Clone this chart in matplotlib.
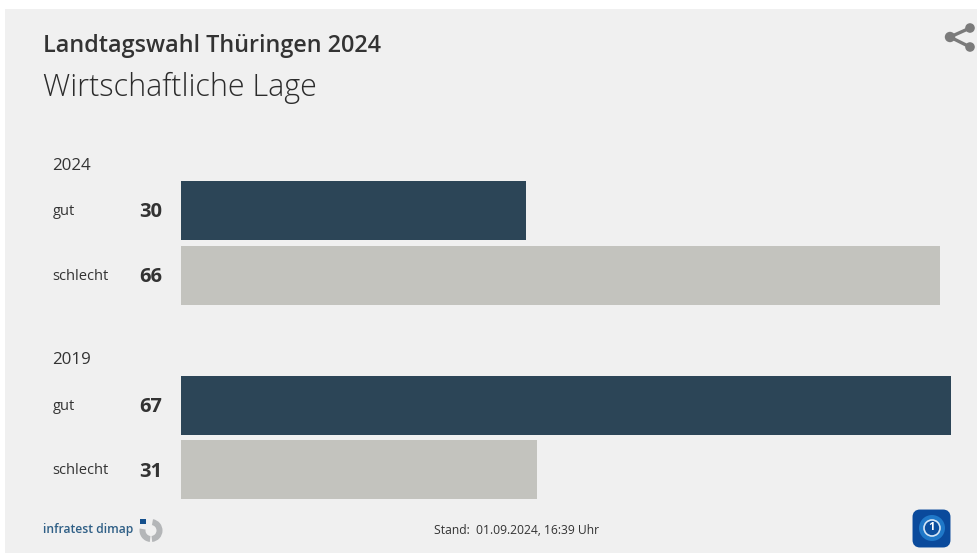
import matplotlib
matplotlib.use("Agg")
import matplotlib.pyplot as plt
from matplotlib.patches import Rectangle, Circle, FancyBboxPatch, Wedge

# Survey values
years = ["2024", "2019"]
answers = ["gut", "schlecht"]
values_2024 = [30, 66]
values_2019 = [67, 31]
bar_colors = ["#2c4557", "#c3c3be"]

title = "Landtagswahl Thüringen 2024"
subtitle = "Wirtschaftliche Lage"
stand = "Stand:  01.09.2024, 16:39 Uhr"
source = "infratest dimap"

W, H = 977, 553
FONT = "Open Sans"
TEXT = "#333333"

fig = plt.figure(figsize=(W / 100, H / 100), dpi=100, facecolor="white")

# Overlay in pixel units for the panel, headings and logos
bg = fig.add_axes([0, 0, 1, 1])
bg.set_xlim(0, W)
bg.set_ylim(H, 0)
bg.axis("off")
bg.add_patch(Rectangle((5, 9), W - 5, H - 9, facecolor="#f0f0f0", edgecolor="none"))

bg.text(43, 46, title, fontsize=16.8, fontweight="semibold", family=FONT,
        color=TEXT, va="center", ha="left")
bg.text(43, 88, subtitle, fontsize=22, fontweight="light", family=FONT,
        color="#2b2b2b", va="center", ha="left")

# Bars on their own axes: rows 0, 1 and 3, 4 with a free row between the years
x0, x1 = 181, 951
row = 64.85
top = 210.5 - row * 1.0
bottom = 210.5 + row * 4.5
ax = fig.add_axes([x0 / W, 1 - bottom / H, (x1 - x0) / W, (bottom - top) / H])
ax.set_xlim(0, 67)
ax.set_ylim(4.5, -1)
ax.axis("off")
ax.patch.set_alpha(0)

trans = ax.get_yaxis_transform()
for group, (year, vals) in enumerate(zip(years, [values_2024, values_2019])):
    base = group * 3
    ax.text(-128.5 / 770, base - 0.69, year, transform=trans, family=FONT,
            fontsize=12.2, color=TEXT, va="center", ha="left")
    for i, (name, v) in enumerate(zip(answers, vals)):
        y = base + i
        ax.barh(y, v, height=0.91, color=bar_colors[i], linewidth=0)
        ax.text(-128.5 / 770, y + 0.015, name, transform=trans, family=FONT,
                fontsize=10.5, color=TEXT, va="center", ha="left")
        ax.text(-19 / 770, y + 0.03, str(v), transform=trans, family=FONT,
                fontsize=14.5, fontweight="bold", color=TEXT, va="center", ha="right")

# Footer
bg.text(517, 530, stand, fontsize=8.75, family=FONT, color=TEXT, va="center", ha="center")
bg.text(43, 529, source, fontsize=8.75, fontweight="semibold", family=FONT,
        color="#2f5f86", va="center", ha="left")

# infratest dimap mark: two ring segments and a small square
ring = "#b4b6b8"
bg.add_patch(Wedge((151, 530.5), 11.5, -80, 84, width=6, facecolor=ring, edgecolor="none"))
bg.add_patch(Wedge((151, 530.5), 11.5, 96, 190, width=6, facecolor=ring, edgecolor="none"))
bg.add_patch(Rectangle((140, 519), 5.5, 5, facecolor="#15508c", edgecolor="none"))

# Share icon
share = "#7b7b7b"
hub, ends = (950, 37), [(970, 28), (970, 47)]
for e in ends:
    bg.plot([hub[0], e[0]], [hub[1], e[1]], color=share, lw=2.4, solid_capstyle="round")
    bg.add_patch(Circle(e, 4.8, facecolor=share, edgecolor="none"))
bg.add_patch(Circle(hub, 5.2, facecolor=share, edgecolor="none"))

# Broadcaster icon
bg.add_patch(FancyBboxPatch((916, 513), 31, 31, boxstyle="round,pad=0,rounding_size=4",
                            mutation_aspect=1, facecolor="#0a4a9c", edgecolor="#0a4a9c", lw=5))
bg.add_patch(Circle((932, 528), 13, facecolor="#1f78c8", edgecolor="none"))
bg.add_patch(Circle((932, 528), 8, facecolor="#0c4f9e", edgecolor="#d5e6f5", lw=1.2))
bg.text(932, 528, "1", fontsize=8, fontweight="bold", family=FONT, color="white",
        ha="center", va="center")

fig.savefig("out.png", dpi=100, facecolor="white")
